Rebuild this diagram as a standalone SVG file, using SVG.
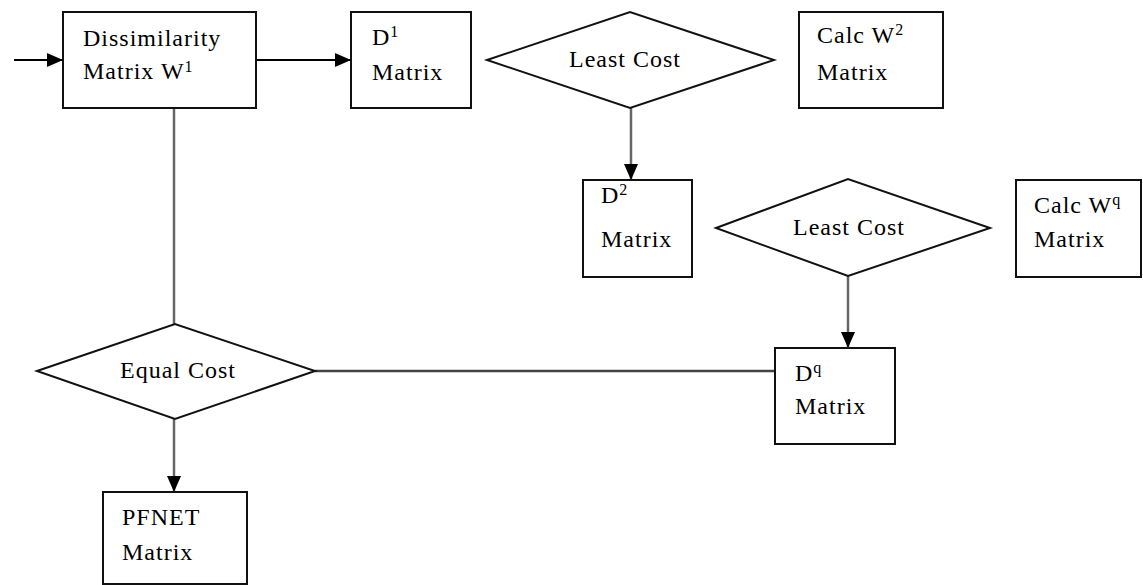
<svg xmlns="http://www.w3.org/2000/svg" width="1143" height="585" viewBox="0 0 1143 585">
<style>
.box{fill:#fff;stroke:#111;stroke-width:2}
.t{font-family:"Liberation Serif","Times New Roman",serif;font-size:24px;letter-spacing:1px;fill:#000}
.s{font-size:16px;letter-spacing:0}
.blk{stroke:#000;stroke-width:2;fill:none}
.gry{stroke:#666;stroke-width:2.5;fill:none}
</style>
<defs>
<marker id="ah" markerUnits="userSpaceOnUse" markerWidth="16" markerHeight="14" refX="16" refY="7" orient="auto">
<path d="M0,0 L16,7 L0,14 z" fill="#000"/>
</marker>
</defs>
<rect width="1143" height="585" fill="#fff"/>
<g id="connectors">
<line class="blk" x1="14" y1="60" x2="63" y2="60" marker-end="url(#ah)"/>
<line class="blk" x1="256" y1="60" x2="351" y2="60" marker-end="url(#ah)"/>
<line class="gry" x1="631" y1="108" x2="631" y2="180" marker-end="url(#ah)"/>
<line class="gry" x1="848" y1="276" x2="848" y2="348" marker-end="url(#ah)"/>
<line class="gry" x1="174" y1="108" x2="174" y2="324"/>
<line class="gry" x1="315" y1="371" x2="775" y2="371" style="stroke:#444"/>
<line class="gry" x1="174" y1="419" x2="174" y2="492" marker-end="url(#ah)"/>
</g>
<g id="dissimilarity">
<rect class="box" x="63" y="12" width="193" height="96"/>
<text class="t" x="83" y="46">Dissimilarity</text>
<text class="t" x="83" y="79">Matrix W<tspan class="s" dy="-7">1</tspan></text>
</g>
<g id="d1">
<rect class="box" x="351" y="12" width="120" height="96"/>
<text class="t" x="372" y="45">D<tspan class="s" dy="-8">1</tspan></text>
<text class="t" x="372" y="80">Matrix</text>
</g>
<g id="leastcost1">
<polygon class="box" points="487,60 630,12 774,60 630,108"/>
<text class="t" x="625" y="67" text-anchor="middle">Least Cost</text>
</g>
<g id="calcw2">
<rect class="box" x="799" y="12" width="144" height="96"/>
<text class="t" x="817" y="43">Calc W<tspan class="s" dy="-8">2</tspan></text>
<text class="t" x="817" y="80">Matrix</text>
</g>
<g id="d2">
<rect class="box" x="583" y="180" width="109" height="97"/>
<text class="t" x="601" y="203">D<tspan class="s" dy="-8">2</tspan></text>
<text class="t" x="601" y="247">Matrix</text>
</g>
<g id="leastcost2">
<polygon class="box" points="716,228 848,179 990,228 848,276"/>
<text class="t" x="849" y="235" text-anchor="middle">Least Cost</text>
</g>
<g id="calcwq">
<rect class="box" x="1016" y="180" width="125" height="97"/>
<text class="t" x="1034" y="213">Calc W<tspan class="s" dy="-8">q</tspan></text>
<text class="t" x="1034" y="247">Matrix</text>
</g>
<g id="equalcost">
<polygon class="box" points="37,371 175,324 315,371 175,419"/>
<text class="t" x="178" y="378" text-anchor="middle">Equal Cost</text>
</g>
<g id="dq">
<rect class="box" x="775" y="348" width="120" height="96"/>
<text class="t" x="795" y="381">D<tspan class="s" dy="-8">q</tspan></text>
<text class="t" x="795" y="414">Matrix</text>
</g>
<g id="pfnet">
<rect class="box" x="103" y="492" width="144" height="92"/>
<text class="t" x="122" y="525">PFNET</text>
<text class="t" x="122" y="560">Matrix</text>
</g>
</svg>
